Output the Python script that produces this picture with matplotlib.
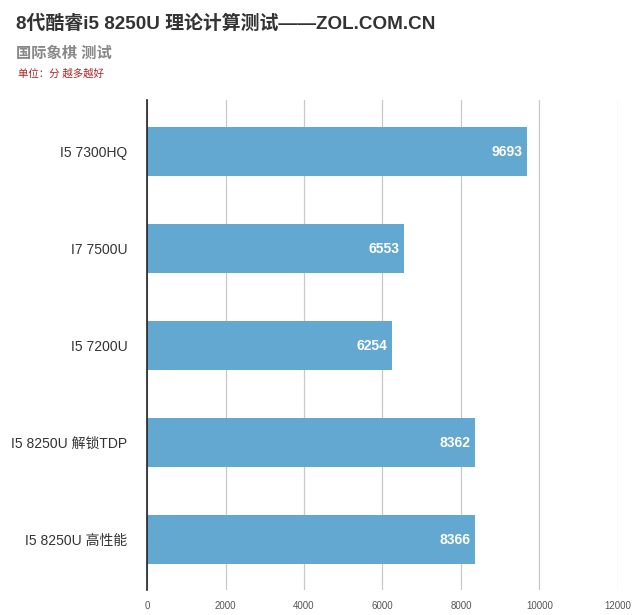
import matplotlib
matplotlib.use('Agg')
import matplotlib.pyplot as plt

plt.rcParams['font.family'] = ['Liberation Sans', 'Noto Sans CJK SC', 'DejaVu Sans']

categories = ["I5 7300HQ", "I7 7500U", "I5 7200U", "I5 8250U 解锁TDP", "I5 8250U 高性能"]
scores = [9693, 6553, 6254, 8362, 8366]
xticks = [0, 2000, 4000, 6000, 8000, 10000, 12000]

fig = plt.figure(figsize=(6.4, 6.15), dpi=100)
ax = fig.add_axes([0.2297, 0.0407, 0.7359, 0.7963])

ypos = list(range(len(categories)))
ax.barh(ypos, scores, height=0.5, color='#63a8d1', zorder=2)
for y, v in zip(ypos, scores):
    ax.text(v - 120, y, str(v), ha='right', va='center', color='white',
            fontsize=10, fontweight='bold', zorder=3)

ax.set_ylim(4.52, -0.53)
ax.set_xlim(0, 12000)
ax.set_yticks(ypos)
ax.set_yticklabels(categories, fontsize=10, color='#333333')
ax.set_xticks(xticks)
ax.set_xticklabels([str(t) for t in xticks], fontsize=7, color='#555555')
ax.tick_params(axis='y', length=0, pad=14)
ax.tick_params(axis='x', length=0, pad=8)
ax.grid(axis='x', color='#c8c8c8', linewidth=0.9, zorder=0)
for s in ['top', 'right', 'bottom']:
    ax.spines[s].set_visible(False)
ax.spines['left'].set_color('#222222')
ax.spines['left'].set_linewidth(1.2)

fig.text(0.025, 0.962, "8代酷睿i5 8250U 理论计算测试——ZOL.COM.CN", fontsize=13.6,
         fontweight='bold', color='#333333', va='center')
fig.text(0.025, 0.913, "国际象棋 测试", fontsize=11, fontweight='bold',
         style='italic', color='#888888', va='center')
fig.text(0.028, 0.881, "单位：分 越多越好", fontsize=7.5, color='#b22222', va='center')

fig.savefig('out.png', dpi=100)
